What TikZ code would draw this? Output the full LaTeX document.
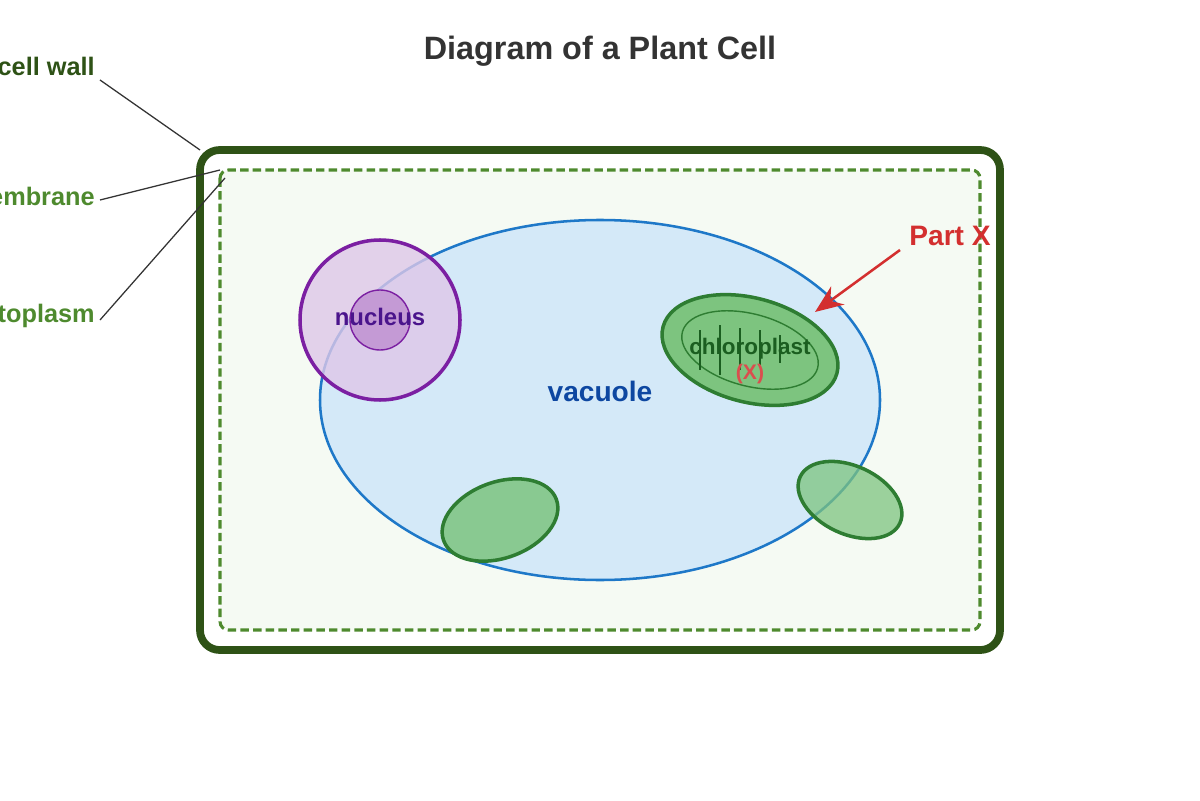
\documentclass[tikz,border=0pt]{standalone}
\usepackage{fontspec}
\setmainfont{Liberation Sans}
\usetikzlibrary{arrows.meta, positioning}
\definecolor{wallgreen}{HTML}{2E5216}
\definecolor{membgreen}{HTML}{4E8A2E}
\definecolor{cytofill}{HTML}{F5FAF3}
\definecolor{vacfill}{HTML}{D4E9F8}
\definecolor{vacblue}{HTML}{1E78C8}
\definecolor{vactext}{HTML}{0D47A1}
\definecolor{nucpurple}{HTML}{7B1FA2}
\definecolor{nuctext}{HTML}{4A148C}
\definecolor{chlorofill}{HTML}{7DC47F}
\definecolor{chloroline}{HTML}{2E7D32}
\definecolor{chlorotext}{HTML}{1B5E20}
\definecolor{partred}{HTML}{D32F2F}
\tikzset{
    label text/.style={font=\bfseries\fontsize{18}{20}\selectfont, anchor=east, inner sep=0pt},
    leader/.style={draw=black!80, line width=0.9pt},
    chloro/.style={fill=chlorofill, draw=chloroline, line width=2.5pt},
}
\begin{document}
\begin{tikzpicture}[x=0.025cm, y=-0.025cm]
    \useasboundingbox (0,0) rectangle (1200,800);
    \clip (0,0) rectangle (1200,800);

    \node[font=\bfseries\fontsize{23}{26}\selectfont, text=black!80] (title) at (600,51) {Diagram of a Plant Cell};

    % cell wall and membrane
    \draw[wallgreen, line width=5.5pt, rounded corners=14pt] (200,150) rectangle (1000,650);
    \draw[membgreen, fill=cytofill, line width=2.2pt, dash pattern=on 6pt off 3pt, rounded corners=6pt] (220,170) rectangle (980,630);

    % vacuole
    \draw[vacblue, fill=vacfill, line width=1.8pt] (600,400) ellipse [x radius=280, y radius=180];
    \node[font=\bfseries\fontsize{20}{22}\selectfont, text=vactext] (vac) at (600,391) {vacuole};

    % nucleus
    \draw[nucpurple, fill=nucpurple!25, fill opacity=0.8, line width=2.5pt] (380,320) circle [radius=80];
    \draw[nucpurple, fill=nucpurple!45, line width=1pt] (380,320) circle [radius=30];
    \node[font=\bfseries\fontsize{17}{19}\selectfont, text=nuctext] (nuc) at (380,317) {nucleus};

    % chloroplasts
    \draw[chloro] (750,350) ellipse [x radius=90, y radius=52, rotate=-15];
    \draw[chloroline, line width=1pt] (750,350) ellipse [x radius=70, y radius=36, rotate=-15];
    \foreach \x/\ya/\yb in {700/330/370, 720/325/375, 740/328/370, 760/330/365, 780/335/363}
        \draw[chlorotext, line width=1pt] (\x,\ya) -- (\x,\yb);
    \node[font=\bfseries\fontsize{16}{18}\selectfont, text=chlorotext] (chl) at (750,349) {chloroplast};
    \node[font=\bfseries\fontsize{15}{17}\selectfont, text=partred!85, below=-4pt of chl] (chlx) {(X)};
    \draw[chloro, fill opacity=0.85] (500,520) ellipse [x radius=60, y radius=38, rotate=20];
    \draw[chloro, fill opacity=0.75] (850,500) ellipse [x radius=55, y radius=34, rotate=-25];

    % part X
    \node[font=\bfseries\fontsize{20}{22}\selectfont, text=partred] (partx) at (950,236) {Part X};
    \coordinate (tip) at (815,312);
    \draw[partred, line width=1.8pt, -{Stealth[length=20pt, width=16pt]}] (900,250) -- (tip);

    % side labels
    \node[label text, text=wallgreen] (wall) at (95,66) {cell wall};
    \node[label text, text=membgreen] (memb) at (95,196) {cell membrane};
    \node[label text, text=membgreen] (cyto) at (95,316) {cytoplasm};
    \coordinate (wallpt) at (200,150);
    \coordinate (membpt) at (220,170);
    \coordinate (cytopt) at (225,178);
    \draw[leader] (100,80) -- (wallpt);
    \draw[leader] (100,200) -- (membpt);
    \draw[leader] (100,320) -- (cytopt);
\end{tikzpicture}
\end{document}
